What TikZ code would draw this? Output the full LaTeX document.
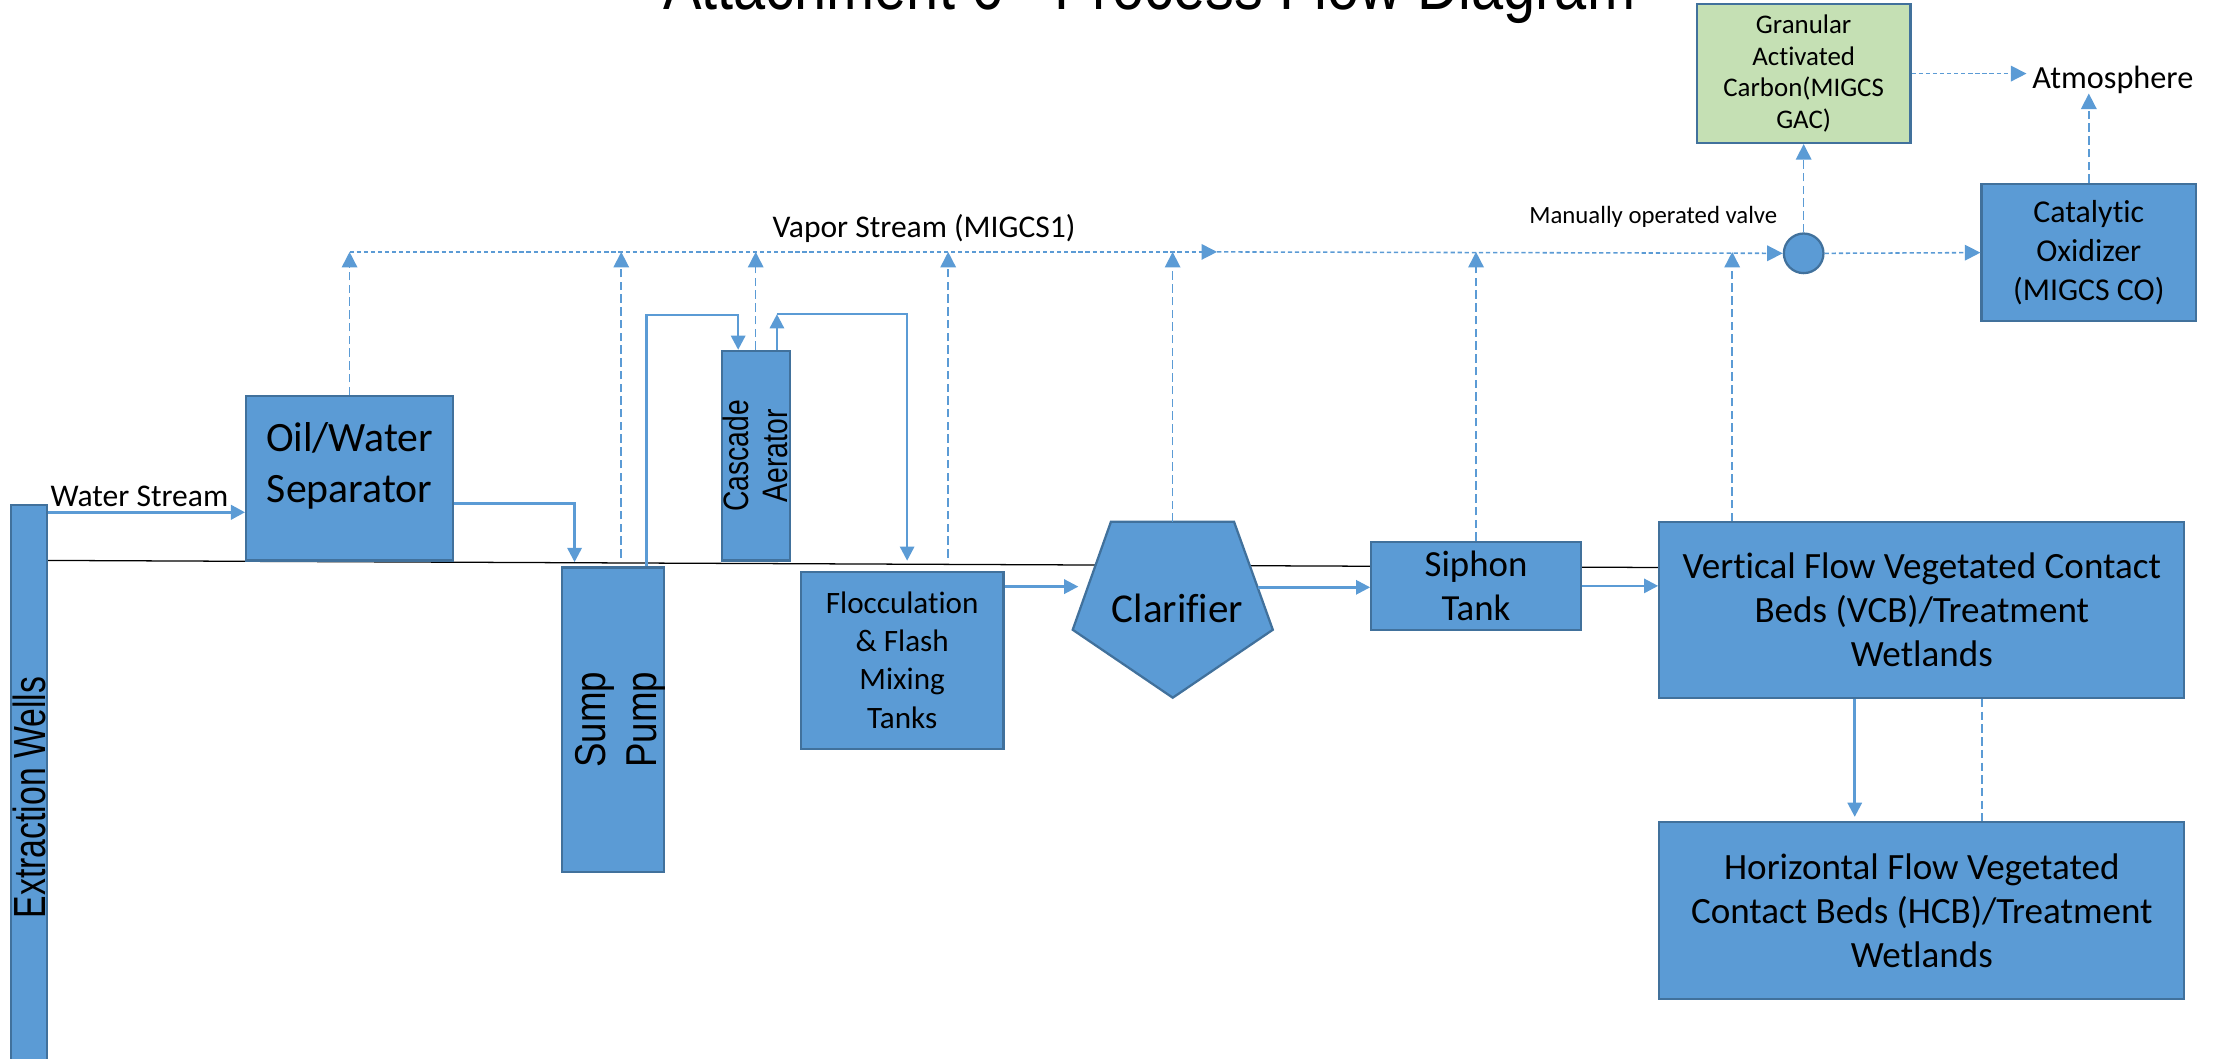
\documentclass[tikz,border=0pt]{standalone}
\usepackage{fontspec}
\setmainfont[Ligatures={TeX,NoCommon}]{Carlito}
\newfontfamily\arW[FakeStretch=0.75]{Liberation Sans}
\newfontfamily\arS[FakeStretch=0.85]{Liberation Sans}
\newfontfamily\arC[FakeStretch=0.8]{Liberation Sans}
\newfontfamily\arT[FakeStretch=0.85]{Liberation Sans}
\usetikzlibrary{arrows.meta}
\definecolor{boxfill}{HTML}{5B9BD5}
\definecolor{boxline}{HTML}{41719C}
\definecolor{gacfill}{HTML}{C5E0B4}
\begin{document}
\begin{tikzpicture}[x=1pt,y=-1pt,
  unit/.style={draw=boxline,fill=boxfill,line width=1.6pt,inner sep=2pt,align=center,text=black},
  flow/.style={draw=boxfill,line width=1.8pt,-{Triangle[length=10pt,width=10pt]}},
  vapv/.style={draw=boxfill,line width=1.1pt,dash pattern=on 6pt off 3pt},
  vaph/.style={draw=boxfill,line width=1.1pt,dash pattern=on 3pt off 2pt},
  vtip/.style={-{Triangle[length=11pt,width=11pt]}},
  lbl/.style={inner sep=0pt,anchor=base}]
\useasboundingbox (0,0) rectangle (1568,748);
\clip (0,0) rectangle (1568,748);

% ground line
\coordinate (g1) at (33,396);
\coordinate (g2) at (1172,401);
\draw[black,line width=0.9pt] (g1) -- (g2);

% helper coordinates
\coordinate (vap) at (700,178);
\coordinate (ws) at (100,362);
\coordinate (c2) at (406,355.6);
\coordinate (c3a) at (457,222.5);
\coordinate (c3b) at (521.6,222.5);
\coordinate (c4a) at (549,222);
\coordinate (c5) at (641,222);
\coordinate (c6) at (700,414.5);
\coordinate (clin) at (762,414.5);
\coordinate (c7) at (889,415);
\coordinate (c8) at (1140,414);
\coordinate (c9) at (1310.6,500);
\coordinate (v2) at (439,394);
\coordinate (v4) at (670,394);
\coordinate (v7) at (1224,300);
\coordinate (d1) at (1400.5,540);
\coordinate (vmid) at (860,178);

% clarifier shape
\coordinate (cla) at (785,368.7);
\coordinate (clb) at (872,368.7);
\coordinate (clc) at (899.4,445);
\coordinate (cld) at (828.7,493);
\coordinate (cle) at (758,445);
\coordinate (cltop) at (828.6,368.7);

% units
\node[unit,rotate=90,minimum width=413pt,minimum height=25pt,inner sep=0pt,font={\arW\fontsize{31.8pt}{36pt}\selectfont}] (wells) at (20.5,563.5) {Extraction Wells};
\node[unit,minimum width=146pt,minimum height=116pt,font={\fontsize{29.5pt}{36pt}\selectfont}] (ow) at (247,338) {Oil/Water\\Separator\rule[-22pt]{0pt}{0pt}};
\node[unit,rotate=90,minimum width=215pt,minimum height=72pt,font={\arS\fontsize{30.5pt}{36pt}\selectfont}] (sump) at (433,508.5) {\rule{0pt}{26.4pt}Sump\\\smash{Pump}};
\node[unit,rotate=90,minimum width=148pt,minimum height=48pt,inner sep=1pt,font={\arC\fontsize{25pt}{27.5pt}\selectfont}] (aer) at (534,322) {Cascade\\Aerator};
\node[unit,minimum width=143pt,minimum height=125pt,font={\fontsize{22pt}{27pt}\selectfont}] (floc) at (637.5,466.5) {Flocculation\\\& Flash\\Mixing\\Tanks};
\draw[draw=boxline,fill=boxfill,line width=1.6pt] (cla) -- (clb) -- (clc) -- (cld) -- (cle) -- cycle;
\node[font={\fontsize{29pt}{34pt}\selectfont},inner sep=0pt] (clar) at (832,430) {Clarifier};
\node[unit,minimum width=148pt,minimum height=62pt,inner sep=0pt,font={\fontsize{26pt}{31pt}\selectfont}] (siph) at (1043,414) {Siphon\\Tank};
\node[unit,minimum width=371pt,minimum height=124pt,font={\fontsize{26.2pt}{31pt}\selectfont}] (vcb) at (1358,431) {Vertical Flow Vegetated Contact\\Beds (VCB)/Treatment\\Wetlands};
\node[unit,minimum width=371pt,minimum height=125pt,font={\fontsize{26.2pt}{31pt}\selectfont}] (hcb) at (1358,643.5) {Horizontal Flow Vegetated\\Contact Beds (HCB)/Treatment\\Wetlands};
\node[unit,fill=gacfill,minimum width=151pt,minimum height=98pt,font={\fontsize{19pt}{22.4pt}\selectfont}] (gac) at (1274.5,52) {Granular\\Activated\\Carbon(MIGCS\\GAC)};
\node[unit,minimum width=151.6pt,minimum height=97pt,font={\fontsize{22.5pt}{27.7pt}\selectfont}] (cat) at (1476,178.5) {Catalytic\\Oxidizer\\(MIGCS CO)};
\node[unit,circle,minimum size=28pt,inner sep=0pt] (valve) at (1274.5,179) {};

% labels
\node[lbl,font={\arT\fontsize{48pt}{54pt}\selectfont}] (title) at (812,7) {Attachment 6 - Process Flow Diagram};
\node[lbl,font={\fontsize{22.3pt}{26pt}\selectfont}] (wsl) at (98.5,357.6) {Water Stream};
\node[lbl,font={\fontsize{22.3pt}{26pt}\selectfont}] (vsl) at (653,167.5) {Vapor Stream (MIGCS1)};
\node[lbl,font={\fontsize{17.5pt}{21pt}\selectfont}] (mov) at (1168.3,158.2) {Manually operated valve};
\node[lbl,inner xsep=4pt,font={\fontsize{22.8pt}{27pt}\selectfont}] (atm) at (1493,62.2) {Atmosphere};

% vapour stream (dashed)
\draw[vapv,vtip] (ow.north) -- (ow.north |- vap);
\draw[vapv,vtip] (v2) -- (v2 |- vap);
\draw[vapv,vtip] (aer.east) -- (aer.east |- vap);
\draw[vapv,vtip] (v4) -- (v4 |- vap);
\draw[vapv,vtip] (cltop) -- (cltop |- vap);
\draw[vapv,vtip] (siph.north) -- (siph.north |- vap);
\draw[vapv,vtip] (v7 |- vcb.north) -- (v7 |- vap);
\draw[vaph,vtip] (ow.north |- vap) -- (vmid);
\draw[vaph,vtip] (vmid) -- (valve.west);
\draw[vaph,vtip] (valve.east) -- (cat.west);
\draw[vapv,vtip] (valve.north) -- (gac.south);
\draw[vaph,vtip] (gac.east) -- (gac.east -| atm.west);
\draw[vapv,vtip] (cat.north) -- (cat.north |- atm.south);
\draw[vapv] (d1 |- vcb.south) -- (d1 |- hcb.north);

% water stream (solid)
\draw[flow,line width=2.4pt] (wells.south |- ws) -- (ow.west |- ws);
\draw[flow,shorten >=3pt] (ow.east |- c2) -- (c2) -- (c2 |- sump.east);
\draw[flow] (c3a |- sump.east) -- (c3a) -- (c3b) -- (c3b |- aer.east);
\draw[flow] (c4a |- aer.east) -- (c4a);
\draw[flow,shorten >=7pt] (c4a) -- (c5) -- (c5 |- floc.north);
\draw[flow] (floc.east |- c6) -- (clin);
\draw[flow] (c7) -- (siph.west |- c7);
\draw[flow] (siph.east |- c8) -- (vcb.west |- c8);
\draw[flow,shorten >=3pt] (c9 |- vcb.south) -- (c9 |- hcb.north);
\end{tikzpicture}
\end{document}
